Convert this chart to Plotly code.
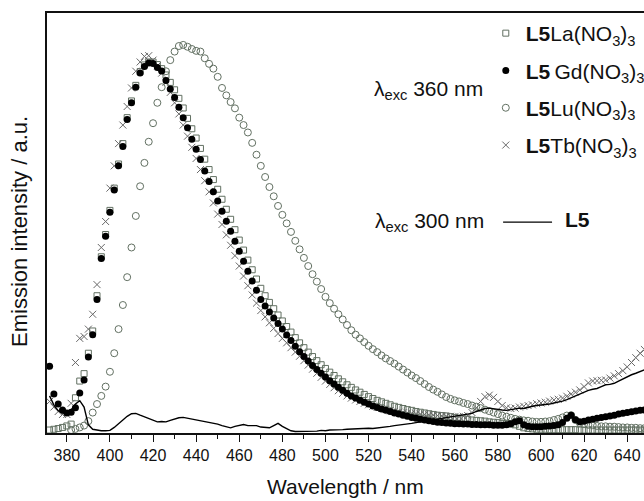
import plotly.graph_objects as go

# Emission wavelength grid (nm), 2 nm steps
wavelength = list(range(372, 650, 2))

# Normalised emission intensities of L5 complexes (lambda_exc = 360 nm)
la_no3 = [
    0.008, 0.010, 0.012, 0.015, 0.019, 0.024, 0.095, 0.140, 0.160, 0.215,
    0.275, 0.370, 0.475, 0.535, 0.600, 0.660, 0.725, 0.780, 0.850, 0.895,
    0.937, 0.974, 0.992, 1.000, 1.000, 0.993, 0.982, 0.965, 0.945, 0.925,
    0.902, 0.876, 0.848, 0.820, 0.795, 0.767, 0.738, 0.710, 0.683, 0.657,
    0.630, 0.603, 0.576, 0.548, 0.520, 0.493, 0.466, 0.440, 0.415, 0.390,
    0.370, 0.352, 0.335, 0.318, 0.302, 0.287, 0.272, 0.257, 0.243, 0.230,
    0.218, 0.206, 0.195, 0.184, 0.174, 0.164, 0.155, 0.146, 0.138, 0.130,
    0.123, 0.116, 0.110, 0.104, 0.098, 0.093, 0.088, 0.084, 0.080, 0.076,
    0.072, 0.069, 0.066, 0.063, 0.061, 0.058, 0.056, 0.054, 0.052, 0.050,
    0.048, 0.047, 0.046, 0.044, 0.042, 0.040, 0.038, 0.037, 0.035, 0.034,
    0.033, 0.032, 0.030, 0.029, 0.028, 0.026, 0.025, 0.024, 0.022, 0.018,
    0.014, 0.012, 0.011, 0.010, 0.010, 0.010, 0.009, 0.009, 0.009, 0.009,
    0.009, 0.009, 0.009, 0.008, 0.008, 0.008, 0.008, 0.008, 0.008, 0.008,
    0.008, 0.008, 0.008, 0.008, 0.008, 0.008, 0.008, 0.008, 0.008,
]
gd_no3 = [
    0.180, 0.105, 0.078, 0.062, 0.054, 0.056, 0.068, 0.108, 0.143, 0.205,
    0.265, 0.360, 0.470, 0.530, 0.595, 0.655, 0.720, 0.772, 0.845, 0.890,
    0.932, 0.970, 0.988, 0.997, 0.996, 0.985, 0.976, 0.950, 0.927, 0.904,
    0.878, 0.850, 0.823, 0.792, 0.765, 0.737, 0.706, 0.678, 0.650, 0.625,
    0.598, 0.571, 0.544, 0.517, 0.490, 0.463, 0.436, 0.410, 0.385, 0.360,
    0.342, 0.326, 0.310, 0.295, 0.280, 0.264, 0.249, 0.234, 0.219, 0.206,
    0.194, 0.182, 0.171, 0.161, 0.151, 0.141, 0.132, 0.123, 0.115, 0.107,
    0.100, 0.094, 0.088, 0.083, 0.078, 0.073, 0.069, 0.065, 0.061, 0.058,
    0.054, 0.051, 0.048, 0.045, 0.042, 0.040, 0.037, 0.035, 0.033, 0.031,
    0.029, 0.028, 0.027, 0.026, 0.025, 0.025, 0.024, 0.024, 0.023, 0.023,
    0.022, 0.022, 0.022, 0.021, 0.021, 0.021, 0.022, 0.025, 0.030, 0.033,
    0.022, 0.018, 0.017, 0.017, 0.017, 0.018, 0.019, 0.020, 0.022, 0.028,
    0.040, 0.048, 0.036, 0.030, 0.032, 0.035, 0.037, 0.040, 0.042, 0.044,
    0.046, 0.048, 0.051, 0.053, 0.055, 0.057, 0.059, 0.061, 0.062,
]
lu_no3 = [
    None, None, None, None, None, 0.008, 0.011, 0.015, 0.020, 0.032,
    0.055, 0.078, 0.100, 0.125, 0.165, 0.215, 0.280, 0.345, 0.420, 0.500,
    0.585, 0.665, 0.728, 0.785, 0.835, 0.890, 0.932, 0.975, 1.005, 1.028,
    1.043, 1.046, 1.041, 1.035, 1.030, 1.028, 1.010, 0.995, 0.982, 0.960,
    0.930, 0.910, 0.892, 0.875, 0.850, 0.830, 0.810, 0.782, 0.750, 0.720,
    0.690, 0.663, 0.638, 0.612, 0.588, 0.565, 0.542, 0.518, 0.495, 0.472,
    0.450, 0.428, 0.408, 0.388, 0.367, 0.350, 0.335, 0.320, 0.306, 0.291,
    0.277, 0.265, 0.255, 0.245, 0.235, 0.226, 0.218, 0.209, 0.201, 0.194,
    0.187, 0.179, 0.171, 0.163, 0.155, 0.148, 0.140, 0.132, 0.124, 0.117,
    0.111, 0.104, 0.097, 0.092, 0.088, 0.085, 0.081, 0.078, 0.074, 0.071,
    0.067, 0.063, 0.059, 0.055, 0.051, 0.047, 0.044, 0.041, 0.038, 0.036,
    0.034, 0.033, 0.031, 0.030, 0.030, 0.031, 0.032, 0.035, 0.038, 0.042,
    0.047, 0.048, 0.035, 0.027, 0.024, 0.022, 0.021, 0.019, 0.018, 0.018,
    0.017, 0.017, 0.016, 0.015, 0.015, 0.014, 0.014, 0.013, 0.013,
]
tb_no3 = [
    0.085, 0.070, 0.058, 0.050, 0.050, 0.080, 0.190, 0.255, 0.260, 0.280,
    0.320, 0.400, 0.500, 0.570, 0.660, 0.720, 0.780, 0.830, 0.880, 0.930,
    0.975, 1.000, 1.015, 1.017, 1.005, 0.990, 0.970, 0.945, 0.918, 0.890,
    0.860, 0.830, 0.800, 0.770, 0.740, 0.710, 0.680, 0.650, 0.620, 0.590,
    0.562, 0.534, 0.506, 0.478, 0.450, 0.423, 0.397, 0.372, 0.350, 0.330,
    0.313, 0.297, 0.282, 0.268, 0.255, 0.243, 0.230, 0.218, 0.207, 0.195,
    0.183, 0.172, 0.161, 0.150, 0.140, 0.131, 0.122, 0.114, 0.107, 0.100,
    0.094, 0.089, 0.085, 0.080, 0.076, 0.072, 0.069, 0.066, 0.063, 0.060,
    0.058, 0.056, 0.055, 0.054, 0.053, 0.052, 0.051, 0.050, 0.049, 0.048,
    0.047, 0.046, 0.045, 0.045, 0.044, 0.044, 0.045, 0.047, 0.055, 0.068,
    0.085, 0.098, 0.102, 0.096, 0.085, 0.074, 0.068, 0.066, 0.067, 0.070,
    0.072, 0.074, 0.076, 0.079, 0.081, 0.083, 0.086, 0.089, 0.091, 0.094,
    0.099, 0.105, 0.110, 0.116, 0.125, 0.135, 0.140, 0.141, 0.142, 0.143,
    0.148, 0.154, 0.160, 0.168, 0.178, 0.190, 0.203, 0.215, 0.225,
]
# Free ligand L5 (lambda_exc = 300 nm)
l5_free = [
    0.100, 0.075, 0.060, 0.054, 0.055, 0.062, 0.078, 0.087, 0.070, 0.022,
    0.010, 0.007, 0.006, 0.006, 0.007, 0.015, 0.025, 0.035, 0.045, 0.052,
    0.053, 0.048, 0.043, 0.038, 0.033, 0.030, 0.031, 0.030, 0.034, 0.038,
    0.041, 0.042, 0.040, 0.038, 0.035, 0.034, 0.031, 0.030, 0.028, 0.024,
    0.020, 0.016, 0.014, 0.018, 0.021, 0.023, 0.020, 0.019, 0.020, 0.016,
    0.015, 0.014, 0.020, 0.026, 0.018, 0.012, 0.006, 0.004, 0.004, 0.005,
    0.004, 0.006, 0.005, 0.007, 0.006, 0.008, 0.008, 0.007, 0.009, 0.010,
    0.011, 0.012, 0.012, 0.013, 0.013, 0.012, 0.013, 0.014, 0.016, 0.018,
    0.020, 0.021, 0.022, 0.024, 0.026, 0.028, 0.030, 0.033, 0.035, 0.037,
    0.039, 0.040, 0.042, 0.045, 0.047, 0.049, 0.050, 0.052, 0.053, 0.058,
    0.063, 0.066, 0.067, 0.065, 0.062, 0.062, 0.061, 0.063, 0.066, 0.067,
    0.066, 0.070, 0.072, 0.074, 0.075, 0.077, 0.078, 0.081, 0.083, 0.086,
    0.090, 0.095, 0.100, 0.107, 0.111, 0.115, 0.118, 0.120, 0.125, 0.130,
    0.131, 0.134, 0.140, 0.146, 0.152, 0.157, 0.161, 0.166, 0.170,
]

FONT = "Liberation Sans, Arial, sans-serif"
TXT = 21
GREY = "rgb(98,112,98)"

fig = go.Figure()

fig.add_trace(go.Scatter(
    x=wavelength, y=la_no3, mode="markers", legendrank=1, legendgroup="la",
    name="<b>L5</b>La(NO<sub>3</sub>)<sub>3</sub>",
    marker=dict(symbol="square-open", size=6, color=GREY, line=dict(width=1)),
))
fig.add_trace(go.Scatter(
    x=wavelength, y=tb_no3, mode="markers", legendrank=4, legendgroup="tb",
    name="<b>L5</b>Tb(NO<sub>3</sub>)<sub>3</sub>",
    marker=dict(symbol="x-thin", size=7, color="rgb(105,105,105)",
                line=dict(width=1, color="rgb(105,105,105)")),
))
fig.add_trace(go.Scatter(
    x=wavelength, y=lu_no3, mode="markers", legendrank=3, legendgroup="lu",
    name="<b>L5</b>Lu(NO<sub>3</sub>)<sub>3</sub>",
    marker=dict(symbol="circle-open", size=7, color=GREY, line=dict(width=1)),
))
fig.add_trace(go.Scatter(
    x=wavelength, y=gd_no3, mode="markers", legendrank=2, legendgroup="gd",
    name="<b>L5</b>\u2009Gd(NO<sub>3</sub>)<sub>3</sub>",
    marker=dict(symbol="circle", size=7, color="black"),
))
fig.add_trace(go.Scatter(
    x=wavelength, y=l5_free, mode="lines", showlegend=False,
    line=dict(color="black", width=1.4),
))

fig.update_layout(
    width=644, height=501,
    margin=dict(l=47, r=0, t=13, b=68, autoexpand=False),
    paper_bgcolor="white", plot_bgcolor="white",
    font=dict(family=FONT, size=TXT, color="#111"),
    showlegend=True,
    legend=dict(
        x=0.735, y=1.0, xanchor="left", yanchor="top",
        bgcolor="rgba(0,0,0,0)", font=dict(size=TXT),
        traceorder="grouped", tracegroupgap=7, itemsizing="trace",
    ),
    xaxis=dict(
        range=[370.8, 647.8], tickmode="linear", tick0=380, dtick=20,
        ticks="outside", ticklen=7, tickwidth=1.2, tickcolor="#111",
        minor=dict(ticks="outside", ticklen=4, tickwidth=1.2, dtick=10, tick0=370,
                   tickcolor="#111"),
        showline=True, linecolor="#111", linewidth=1.5, mirror=True,
        showgrid=False, zeroline=False, automargin=False,
        tickfont=dict(size=16, family=FONT, color="#111"),
    ),
    yaxis=dict(
        range=[0, 1.132], showticklabels=False, ticks="",
        showline=True, linecolor="#111", linewidth=1.5, mirror=False,
        showgrid=False, zeroline=False, automargin=False,
    ),
    annotations=[
        dict(text="Wavelength / nm", xref="paper", yref="paper", x=0.5, y=-0.128,
             xanchor="center", yanchor="middle", showarrow=False, font=dict(size=TXT)),
        dict(text="Emission intensity / a.u.", xref="paper", yref="paper", x=-0.045, y=0.479,
             textangle=-90, xanchor="center", yanchor="middle", showarrow=False,
             font=dict(size=22)),
        dict(text="\u03bb<sub>exc</sub> 360 nm", xref="paper", yref="paper", x=0.544, y=0.817,
             xanchor="left", yanchor="middle", showarrow=False, font=dict(size=TXT)),
        dict(text="\u03bb<sub>exc</sub> 300 nm", xref="paper", yref="paper", x=0.546, y=0.502,
             xanchor="left", yanchor="middle", showarrow=False, font=dict(size=TXT)),
        dict(text="<b>L5</b>", xref="paper", yref="paper", x=0.864, y=0.508,
             xanchor="left", yanchor="middle", showarrow=False, font=dict(size=TXT)),
    ],
    shapes=[
        dict(type="line", xref="paper", yref="paper", x0=0.764, x1=0.846, y0=0.502, y1=0.502,
             line=dict(color="black", width=1.4)),
    ],
)

fig.write_html("out.html")
